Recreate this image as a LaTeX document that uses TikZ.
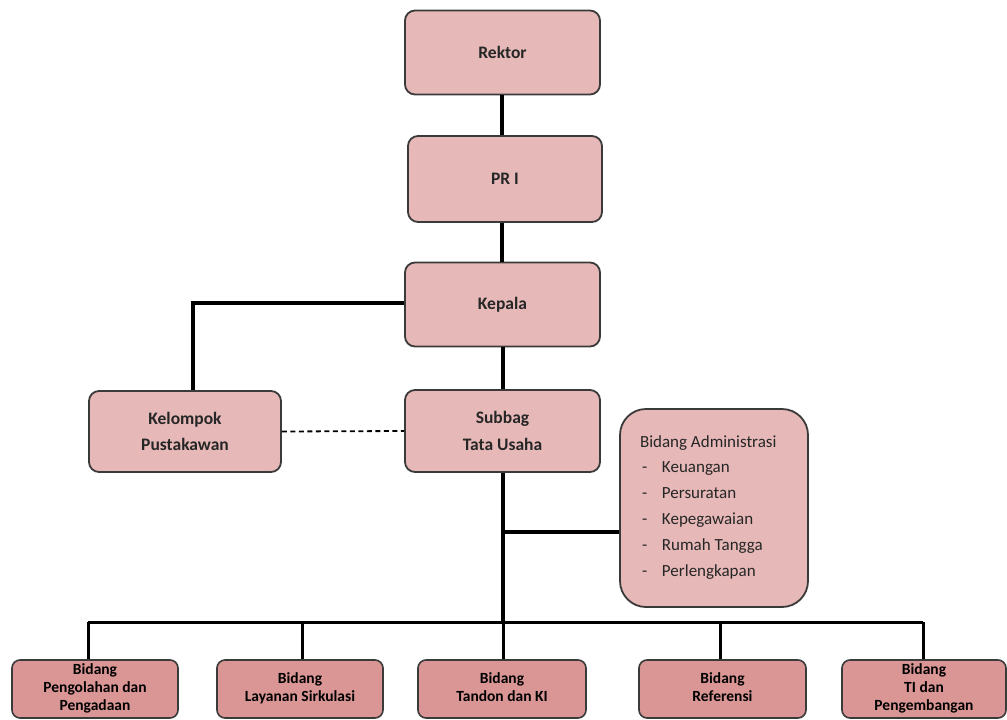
\documentclass[tikz,border=0pt]{standalone}
\usepackage{fontspec}
\setmainfont{Carlito}
\definecolor{topfill}{HTML}{E6B9B8}
\definecolor{botfill}{HTML}{D99694}
\definecolor{boxline}{HTML}{3A3A3A}
\definecolor{textc}{HTML}{262626}
\newcommand{\botlines}[1]{\raisebox{-2.5pt}{\begin{tabular}{@{}c@{}}#1\end{tabular}}}
\newcommand{\admitem}[1]{\makebox[22pt][l]{\hspace{2pt}-}#1}
\begin{document}
\begin{tikzpicture}[x=1pt,y=-1pt,
  box/.style={draw=boxline, line width=1.8pt, fill=topfill, rounded corners=10pt,
    minimum width=195pt, minimum height=84pt, inner sep=0pt, align=center,
    text=textc, font=\fontsize{17.5}{26.5}\selectfont\bfseries},
  adminbox/.style={draw=boxline, line width=1.8pt, fill=topfill, rounded corners=26pt,
    minimum width=188pt, minimum height=198pt, inner xsep=20pt, inner ysep=0pt,
    text width=148pt, align=left,
    text=textc, font=\fontsize{17}{26.2}\selectfont},
  botbox/.style={draw=boxline, line width=1.6pt, fill=botfill, rounded corners=8pt,
    minimum height=58pt, inner sep=0pt, align=center,
    text=black, font=\fontsize{15.5}{18}\selectfont\bfseries},
  conn/.style={line width=3.6pt, black, line join=miter},
  bconn/.style={line width=3pt, black, line join=miter},
  dashconn/.style={line width=1.8pt, black, dash pattern=on 5pt off 3.5pt}
]
\useasboundingbox (0,0) rectangle (1007,720);

% top chain
\node[box] (rektor) at (502.5,52.5) {Rektor};
\node[box, minimum width=194pt, minimum height=86pt] (pr) at (505,179) {PR I};
\node[box] (kepala) at (502.5,304.5) {Kepala};
\node[box, minimum height=82pt] (subbag) at (502.5,431) {Subbag\\Tata Usaha};
\node[box, minimum width=192pt, minimum height=81pt] (kelompok) at (185,431.5) {Kelompok\\Pustakawan};
\node[adminbox] (admin) at (714,508) {\spaceskip=0pt\xspaceskip=0pt\relax
  \raisebox{-2pt}{Bidang Administrasi}\\
  \admitem{Keuangan}\\
  \admitem{Persuratan}\\
  \admitem{Kepegawaian}\\
  \admitem{Rumah Tangga}\\
  \admitem{Perlengkapan}};

% bottom row
\node[botbox, minimum width=166pt] (b1) at (95,689) {\botlines{Bidang\\Pengolahan dan\\Pengadaan}};
\node[botbox, minimum width=166pt] (b2) at (300,689) {\botlines{Bidang\\Layanan Sirkulasi}};
\node[botbox, minimum width=168pt] (b3) at (502,689) {\botlines{Bidang\\Tandon dan KI}};
\node[botbox, minimum width=167pt] (b4) at (722.5,689) {\botlines{Bidang\\Referensi}};
\node[botbox, minimum width=164pt] (b5) at (924,689) {\botlines{Bidang\\TI dan\\Pengembangan}};

% helper coordinates
\coordinate (kl) at (193,303);
\coordinate (adm) at (503,532);
\coordinate (bus) at (503,622);
\coordinate (busL) at (88,622);
\coordinate (busR) at (923,622);

% connectors
\draw[conn] (rektor.south -| 502,0) -- (pr.north -| 502,0);
\draw[conn] (pr.south -| 502,0) -- (kepala.north -| 502,0);
\draw[conn] (kepala.south -| 503,0) -- (subbag.north -| 503,0);
\draw[conn] (kepala.west |- kl) -- (kl) -- (kelompok.north -| kl);
\draw[dashconn] (kelompok.east) -- (subbag.west);
\draw[conn] (subbag.south -| bus) -- (bus);
\draw[conn] (adm) -- (admin.west |- adm);

\draw[bconn] (busL) -- (busR);
\draw[bconn] (busL) -- (b1.north -| busL);
\draw[bconn] (302,622) -- (b2.north -| 302,0);
\draw[bconn] (bus) -- (b3.north -| bus);
\draw[bconn] (720,622) -- (b4.north -| 720,0);
\draw[bconn] (busR) -- (b5.north -| busR);
\end{tikzpicture}
\end{document}
